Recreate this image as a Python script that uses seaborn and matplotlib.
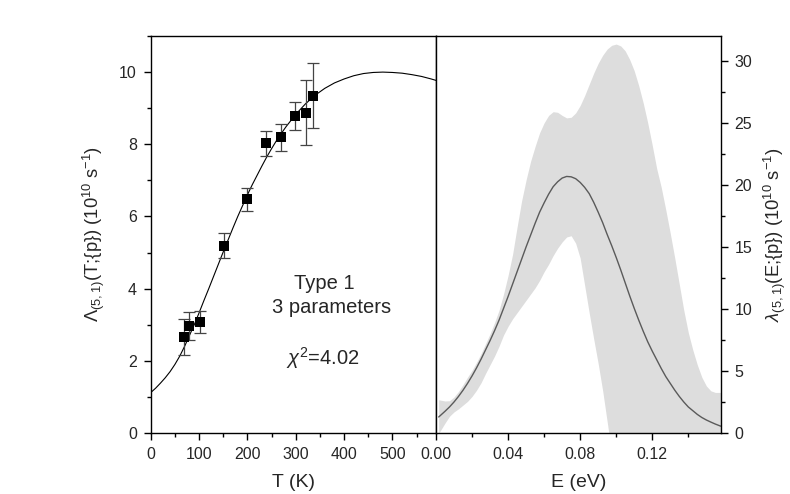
import numpy as np
import pandas as pd
import matplotlib
matplotlib.use('Agg')
import matplotlib.pyplot as plt
from matplotlib.ticker import MultipleLocator, FormatStrFormatter
import seaborn as sns

# Left panel: measured rates with error bars
T_pts = [69.5, 78.4, 102.5, 152, 199.8, 238, 270, 297.5, 320.9, 334.6]
L_pts = [2.67, 2.97, 3.07, 5.19, 6.48, 8.03, 8.19, 8.79, 8.88, 9.35]
L_err = [0.50, 0.38, 0.30, 0.34, 0.32, 0.35, 0.37, 0.39, 0.90, 0.90]

# Left panel: fit curve (Type 1, 3 parameters)
T_fit = [0, 10, 20, 30, 40, 50, 60, 70, 80, 90, 100, 110, 120, 130, 140, 150,
         160, 170, 180, 190, 200, 210, 220, 230, 240, 250, 260, 270, 280, 290,
         300, 320, 340, 360, 380, 400, 420, 440, 460, 480, 500, 520, 540, 560,
         580, 590]
L_fit = [1.12, 1.24, 1.38, 1.53, 1.7, 1.9, 2.13, 2.4, 2.7, 3.0, 3.33, 3.67,
         4.0, 4.34, 4.68, 5.02, 5.35, 5.68, 6.0, 6.3, 6.6, 6.88, 7.14, 7.4,
         7.65, 7.88, 8.1, 8.3, 8.49, 8.66, 8.83, 9.12, 9.36, 9.55, 9.7, 9.81,
         9.9, 9.96, 9.99, 10.0, 9.99, 9.97, 9.93, 9.88, 9.81, 9.77]

# Right panel: lambda(E) with uncertainty band
E_grid = [0.0015, 0.0025, 0.005, 0.0075, 0.01, 0.0125, 0.015, 0.0175, 0.02,
          0.0225, 0.025, 0.0275, 0.03, 0.0325, 0.035, 0.0375, 0.04, 0.0425,
          0.045, 0.0475, 0.05, 0.0525, 0.055, 0.0575, 0.06, 0.0625, 0.065,
          0.0675, 0.07, 0.0725, 0.075, 0.0775, 0.08, 0.0825, 0.085, 0.0875,
          0.09, 0.0925, 0.095, 0.0975, 0.10, 0.1025, 0.105, 0.1075, 0.11,
          0.1125, 0.115, 0.1175, 0.12, 0.1225, 0.125, 0.1275, 0.13, 0.1325,
          0.135, 0.1375, 0.14, 0.1425, 0.145, 0.1475, 0.15, 0.1525, 0.155,
          0.158]
lam_mid = [1.29, 1.42, 1.75, 2.1, 2.5, 2.95, 3.45, 4.0, 4.6,
           5.25, 5.95, 6.7, 7.45, 8.25, 9.1, 10.05, 11.0, 12.0,
           13.0, 14.0, 15.0, 15.95, 16.9, 17.8, 18.55, 19.25, 19.85,
           20.25, 20.55, 20.68, 20.65, 20.5, 20.2, 19.8, 19.3, 18.6,
           17.8, 16.95, 16.0, 15.1, 14.15, 13.15, 12.1, 11.05, 10.05,
           9.1, 8.2, 7.35, 6.6, 5.9, 5.2, 4.55, 4.0, 3.45,
           2.95, 2.5, 2.1, 1.8, 1.5, 1.25, 1.05, 0.88, 0.72,
           0.55]
lam_hi = [2.68, 2.65, 2.58, 2.6, 2.9, 3.35, 3.9, 4.5, 5.05,
          5.7, 6.4, 7.2, 8.0, 8.9, 9.9, 11.2, 12.7, 14.4,
          16.6, 18.7, 20.4, 21.9, 23.1, 24.2, 25.0, 25.6, 25.9,
          25.85, 25.6, 25.4, 25.45, 25.8, 26.4, 27.2, 28.1, 29.0,
          29.8, 30.45, 30.95, 31.25, 31.35, 31.2, 30.8, 30.1, 29.2,
          28.0, 26.6, 25.0, 23.2, 21.3, 19.8, 18.0, 16.1, 14.1,
          12.0, 9.9, 8.1, 6.7, 5.5, 4.5, 3.8, 3.4, 3.27,
          3.27]
lam_lo = [0.0, 0.2, 0.8, 1.35, 1.7, 1.95, 2.25, 2.55, 2.95,
          3.45, 4.05, 4.8, 5.5, 6.2, 7.0, 7.9, 8.6, 9.2,
          9.7, 10.2, 10.7, 11.2, 11.7, 12.3, 13.0, 13.6, 14.3,
          14.9, 15.4, 15.8, 15.9, 15.3, 14.1, 11.9, 9.7, 7.6,
          5.6, 3.4, 0.9, -1.6, -4.0, -6.0, -6.0, -6.0, -6.0,
          -6.0, -6.0, -6.0, -6.0, -6.0, -6.0, -6.0, -6.0, -6.0,
          -6.0, -6.0, -6.0, -6.0, -6.0, -6.0, -6.0, -6.0, -6.0,
          -6.0]

sns.set_style('ticks')
plt.rcParams['font.family'] = ['Liberation Sans', 'DejaVu Sans']
plt.rcParams['mathtext.fontset'] = 'custom'
plt.rcParams['mathtext.rm'] = 'Liberation Sans'
plt.rcParams['mathtext.it'] = 'Liberation Sans:italic'
plt.rcParams['axes.edgecolor'] = 'black'
plt.rcParams['axes.linewidth'] = 1.0

fs = 11.5   # tick labels
lfs = 14    # x axis labels
yfs = 13.2  # y axis labels
tfs = 14.5  # annotations

fig = plt.figure(figsize=(7.9, 4.94), dpi=100)
ax1 = fig.add_axes([0.1908, 0.1235, 0.3611, 0.8036])
ax2 = fig.add_axes([0.5519, 0.1235, 0.3604, 0.8036])

# left panel
fit_df = pd.DataFrame({'T': T_fit, 'L': L_fit})
sns.lineplot(data=fit_df, x='T', y='L', ax=ax1, color='black', lw=0.8,
             estimator=None, sort=False)
ax1.errorbar(T_pts, L_pts, yerr=L_err, fmt='none', ecolor='#444444',
             elinewidth=0.9, capsize=4, capthick=0.9, zorder=3)
pts_df = pd.DataFrame({'T': T_pts, 'L': L_pts})
sns.scatterplot(data=pts_df, x='T', y='L', ax=ax1, marker='s', s=45,
                color='black', edgecolor='black', linewidth=0, zorder=4)

ax1.set_xlim(0, 590)
ax1.set_ylim(0, 11)
ax1.xaxis.set_major_locator(MultipleLocator(100))
ax1.xaxis.set_minor_locator(MultipleLocator(50))
ax1.yaxis.set_major_locator(MultipleLocator(2))
ax1.yaxis.set_minor_locator(MultipleLocator(1))
ax1.tick_params(which='both', direction='out', labelsize=fs, color='black',
                top=False, right=False, pad=5)
ax1.tick_params(which='major', length=5, width=1)
ax1.tick_params(which='minor', length=3, width=1)
ax1.set_xlabel('T (K)', fontsize=lfs, labelpad=9)
ax1.set_ylabel('Λ$_{(5,1)}$(T;{p}) (10$^{10}$ s$^{-1}$)', fontsize=yfs,
               labelpad=9)

fig.text(324 / 790, 1 - 283 / 494, 'Type 1', fontsize=tfs,
         ha='center', va='center')
fig.text(332 / 790, 1 - 307.7 / 494, '3 parameters', fontsize=tfs,
         ha='center', va='center')
fig.text(323 / 790, 1 - 358 / 494, r'$\chi^2$=4.02', fontsize=tfs,
         ha='center', va='center')

# right panel
band_df = pd.DataFrame({'E': E_grid, 'mid': lam_mid, 'hi': lam_hi, 'lo': lam_lo})
ax2.fill_between(band_df['E'], band_df['lo'], band_df['hi'], color='#dddddd',
                 linewidth=0)
sns.lineplot(data=band_df, x='E', y='mid', ax=ax2, color='#5a5a5a', lw=1.0,
             estimator=None, sort=False)
ax2.set_xlim(0, 0.158)
ax2.set_ylim(0, 32)
ax2.xaxis.set_major_locator(MultipleLocator(0.04))
ax2.xaxis.set_minor_locator(MultipleLocator(0.02))
ax2.yaxis.set_major_locator(MultipleLocator(5))
ax2.yaxis.set_minor_locator(MultipleLocator(2.5))
ax2.xaxis.set_major_formatter(FormatStrFormatter('%.2f'))
ax2.yaxis.tick_right()
ax2.yaxis.set_label_position('right')
ax2.tick_params(which='both', direction='out', labelsize=fs, color='black',
                top=False, left=False, right=True, pad=5)
ax2.tick_params(which='major', length=5, width=1)
ax2.tick_params(which='minor', length=3, width=1)
ax2.set_xlabel('E (eV)', fontsize=lfs, labelpad=9)
ax2.set_ylabel(r'$\lambda_{(5,1)}$(E;{p}) (10$^{10}$ s$^{-1}$)', fontsize=yfs,
               labelpad=7)

fig.savefig('out.png', dpi=100)
